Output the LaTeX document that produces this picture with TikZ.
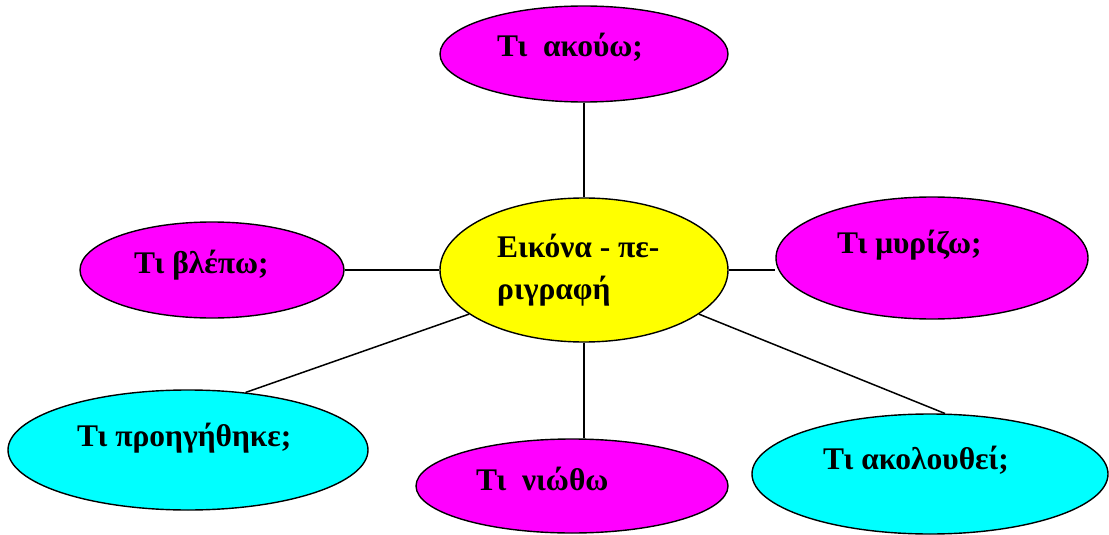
\documentclass[tikz,border=0pt]{standalone}
\usepackage{fontspec}
\setmainfont{Liberation Serif}
\usetikzlibrary{shapes.geometric}
\definecolor{mag}{RGB}{255,0,255}
\definecolor{yel}{RGB}{255,255,0}
\definecolor{cya}{RGB}{0,255,255}
\tikzset{
  bubble/.style={ellipse, draw=black, line width=1.4pt, inner sep=0pt},
  lbl/.style={anchor=base west, inner sep=0pt, font=\fontsize{31.5}{42}\selectfont\bfseries},
  link/.style={draw=black, line width=1.5pt}
}
\begin{document}
\begin{tikzpicture}[x=1pt,y=-1pt]
\useasboundingbox (0,0) rectangle (1109,535);
\node[bubble, fill=mag, minimum width=288pt, minimum height=96pt] (top) at (584,54) {};
\node[bubble, fill=yel, minimum width=288pt, minimum height=144pt] (c) at (584,270) {};
\node[bubble, fill=mag, minimum width=264pt, minimum height=96pt] (l) at (212,270) {};
\node[bubble, fill=mag, minimum width=312pt, minimum height=122pt] (r) at (932,258) {};
\node[bubble, fill=cya, minimum width=360pt, minimum height=120pt] (bl) at (188,450) {};
\node[bubble, fill=mag, minimum width=312pt, minimum height=94pt] (b) at (572,486) {};
\node[bubble, fill=cya, minimum width=356pt, minimum height=120pt] (br) at (930,474) {};

\draw[link] (top.south) -- (c.north);
\draw[link] (l.east) -- (c.west);
\draw[link] (c.east) -- (r.west |- c.east);
\draw[link] (c.south) -- (c.south |- b.north);
\draw[link] (c.201.6) -- (bl.45);
\draw[link] (c.-21.8) -- (br.76.9);

\node[lbl] (ttop) at (497,57) {Τι\ \ ακούω;};
\node[lbl, align=left] (tc) at (497,299) {Εικόνα - πε-\\ριγραφή};
\node[lbl] (tl) at (134,273) {Τι βλέπω;};
\node[lbl] (tr) at (837,253) {Τι μυρίζω;};
\node[lbl] (tbl) at (77,446) {Τι προηγήθηκε;};
\node[lbl] (tb) at (476,490) {Τι\ \ νιώθω};
\node[lbl] (tbr) at (823,469) {Τι ακολουθεί;};
\end{tikzpicture}
\end{document}
